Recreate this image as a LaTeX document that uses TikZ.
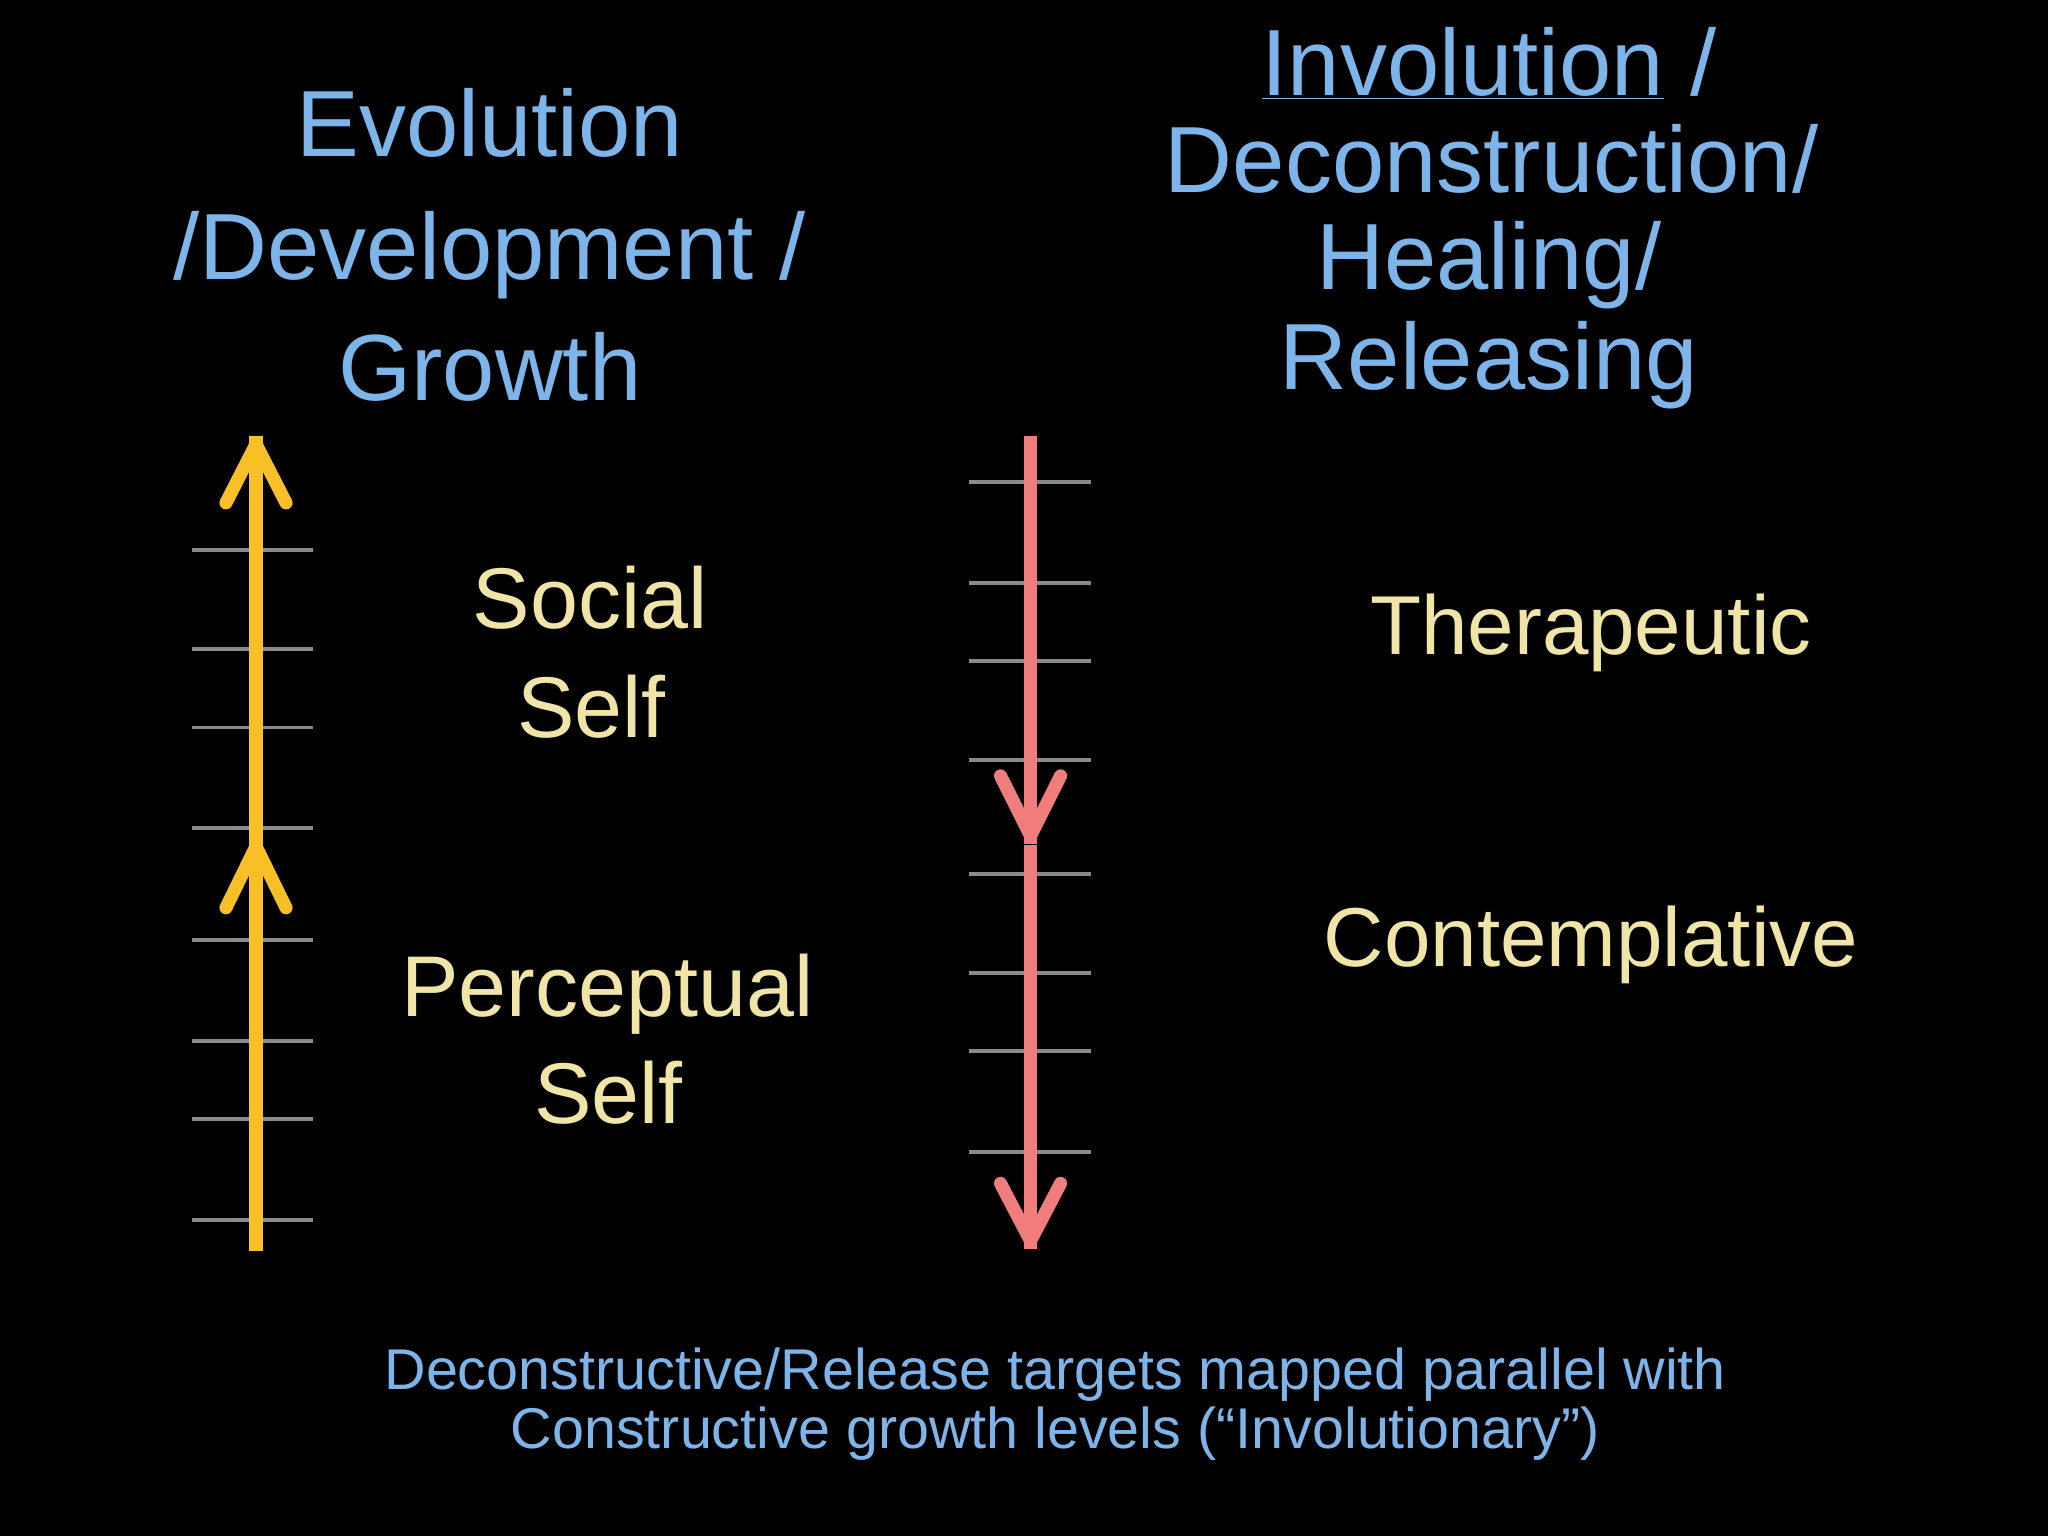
\documentclass[tikz,border=0pt]{standalone}
\usepackage{fontspec}
\setmainfont{Liberation Sans}
\definecolor{tblue}{HTML}{7DB4EA}
\definecolor{tyel}{HTML}{F0E4A6}
\definecolor{ayel}{HTML}{F8BF26}
\definecolor{ared}{HTML}{F07C7C}
\definecolor{tick}{HTML}{8A8A8A}
\tikzset{
 title/.style={text=tblue,font=\fontsize{72}{72}\selectfont,anchor=base,inner sep=0},
 lab/.style={text=tyel,font=\fontsize{66}{66}\selectfont,anchor=base,inner sep=0},
 note/.style={text=tblue,font=\fontsize{44}{44}\selectfont,anchor=base,inner sep=0},
 tk/.style={tick,line width=3pt},
 upy/.style={ayel,line width=10pt},
 chev/.style={line width=10pt,line cap=round,line join=round},
}
\begin{document}
\begin{tikzpicture}[x=1pt,y=-1pt]
\fill[black] (0,0) rectangle (1568,1176);
\useasboundingbox (0,0) rectangle (1568,1176);
% titles
\node[title] (t1) at (375,120) {Evolution};
\node[title] (t2) at (375,214) {/Development /};
\node[title] (t3) at (375,307) {Growth};
\node[title] (r1) at (1140,73) {\underline{Involution} /};
\node[title] (r2) at (1142,147) {Deconstruction/};
\node[title] (r3) at (1140,222) {Healing/};
\node[title] (r4) at (1140,298) {Releasing};
% labels
\node[lab] (s1) at (452,481) {Social};
\node[lab] (s2) at (453,565) {Self};
\node[lab] (p1) at (465,778) {Perceptual};
\node[lab] (p2) at (466,860) {Self};
\node[lab,font=\fontsize{64}{64}\selectfont] (th) at (1218,501) {Therapeutic};
\node[lab,font=\fontsize{64}{64}\selectfont] (co) at (1218,740) {Contemplative};
\node[note] (n1) at (808,1064) {Deconstructive/Release targets mapped parallel with};
\node[note] (n2) at (808,1109) {Constructive growth levels (“Involutionary”)};
% ticks
\foreach \y in {421,497,557,634,720,797,857,934} \draw[tk] (147,\y) -- (240,\y);
\foreach \y in {369,446,506,582,669,745,805,882} \draw[tk] (742,\y) -- (835,\y);
% yellow arrows
\coordinate (ya) at (196,958); \coordinate (yb) at (196,648); \coordinate (yc) at (196,340);
\draw[ayel,line width=10pt] (ya) -- ([yshift=6]yb);
\draw[ayel,chev] (173,695) -- (yb) -- (219,695);
\draw[ayel,line width=10pt] ([yshift=-4]yb) -- ([yshift=6]yc);
\draw[ayel,chev] (173,385) -- (yc) -- (219,385);
% red arrows
\coordinate (ra) at (789,334); \coordinate (rb) at (789,640); \coordinate (rc) at (789,950);
\draw[ared,line width=10pt] (ra) -- ([yshift=-6]rb);
\draw[ared,chev] (766,594) -- (rb) -- (812,594);
\draw[ared,line width=10pt] (789,647) -- ([yshift=-6]rc);
\draw[ared,chev] (766,906) -- (rc) -- (812,906);
\end{tikzpicture}
\end{document}
